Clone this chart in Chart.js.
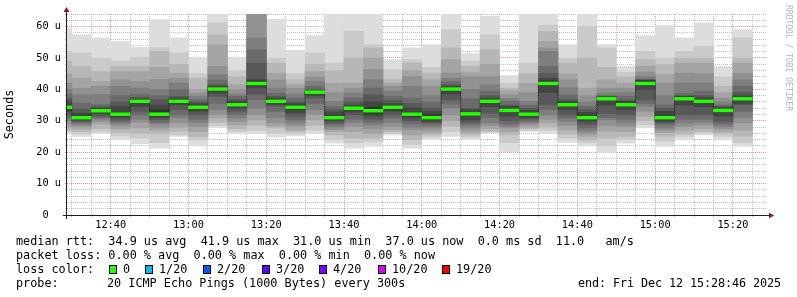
<!DOCTYPE html>
<html>
<head>
<meta charset="utf-8">
<script src="https://cdn.jsdelivr.net/npm/chart.js@4.4.1/dist/chart.umd.min.js"></script>
<style>
  body { margin: 0; background: #fff; }
  #wrap { position: relative; width: 797px; height: 297px; overflow: hidden; font-family: "DejaVu Sans Mono", monospace; }
  canvas { position: absolute; left: 0; top: 0; }
  .t { position: absolute; white-space: pre; font-size: 11.8px; line-height: 14px; color: #000; }
  .box { position: absolute; width: 8px; height: 9px; border: 1px solid #000; box-sizing: border-box; top: 265px; }
  #wm { position: absolute; left: 792px; top: 5px; white-space: pre; font-size: 8px; line-height: 8px; color: #b4b4b4; transform: rotate(90deg); transform-origin: 0 0; }
</style>
</head>
<body>
<div id="wrap">
  <canvas id="c" width="797" height="297"></canvas>
  <div id="wm">RRDTOOL / TOBI OETIKER</div>
  <div class="t" style="left:16px;top:234px">median rtt:  34.9 us avg  41.9 us max  31.0 us min  37.0 us now  0.0 ms sd  11.0   am/s</div>
  <div class="t" style="left:16px;top:248px">packet loss: 0.00 % avg  0.00 % max  0.00 % min  0.00 % now</div>
  <div class="t" style="left:16px;top:262px">loss color:</div>
  <div id="lossLegend"></div>
  <div class="t" style="left:16px;top:276px">probe:</div>
  <div class="t" style="left:107px;top:276px">20 ICMP Echo Pings (1000 Bytes) every 300s</div>
  <div class="t" style="right:16px;top:276px;letter-spacing:-0.1px">end: Fri Dec 12 15:28:46 2025</div>
</div>
<script>
// 5-minute slots (start time), one smoke column each
const slots = ['12:25','12:30','12:35','12:40','12:45','12:50','12:55','13:00','13:05','13:10',
               '13:15','13:20','13:25','13:30','13:35','13:40','13:45','13:50','13:55','14:00',
               '14:05','14:10','14:15','14:20','14:25','14:30','14:35','14:40','14:45','14:50',
               '14:55','15:00','15:05','15:10','15:15','15:20'];

// median rtt per slot (us)
const medians = [34.3, 31.0, 33.2, 32.1, 36.2, 32.1, 36.2, 34.3, 40.1, 35.1,
                 41.9, 36.2, 34.3, 39.1, 31.0, 34.0, 33.2, 34.3, 32.1, 31.0,
                 40.1, 32.2, 36.2, 33.3, 32.1, 41.9, 35.1, 31.0, 37.0, 35.1,
                 41.9, 31.0, 37.0, 36.2, 33.3, 37.0];

// sorted ping rtts per slot (us), p01 = fastest ... p20 = slowest
const p01 = [26, 25.0, 25.9, 24.1, 22.7, 21.3, 25, 22, 27.9, 26, 26, 24.8, 25.2, 26, 22.9, 21.3, 21.8, 25.5, 21.3, 24.1, 25, 24.1, 26.3, 20.2, 26.6, 26, 23.1, 22, 19.9, 22.9, 27.7, 21.8, 23.9, 25.5, 23.9, 21.8];
const p02 = [26.5, 25.8, 26.5, 25.2, 24.5, 23, 25.5, 23.9, 28.5, 26.5, 27, 26, 25.8, 27, 24, 23, 23.4, 26, 22.5, 24.8, 26.5, 24.8, 26.4, 23, 27, 27, 24.5, 23, 22, 24, 28.8, 23.5, 25, 26, 25, 23];
const p03 = [27, 26.6, 27.5, 26.3, 26, 26, 26.6, 25, 29.5, 27.5, 28.5, 27.7, 26.5, 28.5, 25.5, 24.5, 24.5, 26.5, 24, 25.5, 28.2, 25.5, 26.6, 25.5, 27.5, 28, 25.8, 23.9, 24.5, 25, 30, 25, 25.8, 26.5, 26, 25];
const p04 = [28, 27.4, 29, 27.4, 27.7, 27, 28, 26.5, 30.9, 28.7, 30.3, 28.3, 27.1, 30.3, 26.6, 26.5, 26, 27.2, 25.5, 26.2, 30, 26.2, 27.5, 26.5, 28, 29.3, 27.1, 25, 26.6, 26.5, 31.5, 26.2, 27, 27.5, 26.6, 27];
const p05 = [29, 28.2, 29.8, 28.3, 29.5, 28, 29.3, 28.2, 32, 29.8, 32, 29.3, 28.5, 32, 27.2, 28.2, 27.5, 28.2, 27.1, 27.1, 31.9, 27.1, 28.5, 27.7, 28.7, 30.5, 28.5, 26, 28.5, 28.2, 33, 27, 28.2, 28.7, 27.5, 29.3];
const p06 = [30, 28.8, 30.5, 29, 30.5, 29, 31, 29.5, 33.5, 30.9, 34, 31, 29.3, 33.5, 28, 29.5, 28.7, 29.5, 28, 28, 34, 28, 29.3, 28.2, 29.3, 31.9, 29.8, 26.8, 30.3, 29.3, 34.6, 27.7, 29.3, 29.5, 28.2, 31];
const p07 = [31, 29.3, 31, 29.6, 31.9, 29.5, 32, 30.5, 35.5, 32, 36.7, 33, 30.3, 35.5, 28.7, 30.5, 29.5, 30.8, 29, 28.7, 35.3, 28.8, 31, 29, 29.8, 33.5, 30.8, 27.7, 31, 30.5, 35.5, 28.7, 30.5, 30.5, 29, 33];
const p08 = [32, 29.8, 31.5, 30.2, 33, 30.3, 33.5, 31.9, 37.8, 33, 38.5, 34.6, 31.5, 37.2, 29.3, 31.9, 30.5, 31.9, 30, 29.3, 36.7, 29.5, 32.4, 30, 30.5, 35.1, 31.9, 28.8, 32.4, 31.9, 36.7, 29.3, 31.9, 31.9, 29.8, 35.1];
const p09 = [33, 30.2, 32.3, 31, 34.5, 31, 35, 33, 38.8, 34, 40.5, 35.2, 32.5, 38, 30, 32.8, 31.5, 33, 30.8, 29.8, 38.5, 30.3, 34.5, 31.5, 31, 39, 33.5, 29.8, 35, 33.5, 40, 29.8, 35, 34.5, 31.5, 35.5];
const p10 = [33.8, 30.7, 32.8, 31.6, 35.7, 31.5, 35.7, 33.8, 39.6, 34.6, 41.7, 35.7, 33.7, 38.6, 30.6, 33.5, 32.3, 33.7, 31.5, 30.5, 39.6, 31.7, 35.7, 32.8, 31.6, 41.7, 34.6, 30.6, 36.6, 34.6, 41.7, 30.7, 36.5, 35.7, 32.8, 36.5];
const p11 = [35, 31.7, 33.7, 32.7, 36.7, 33.5, 36.7, 34.8, 40.6, 35.6, 42.7, 36.7, 34.9, 39.4, 31.7, 34.5, 34.3, 34.9, 32.7, 31.9, 40.6, 32.7, 36.7, 33.8, 32.6, 42.7, 35.6, 31.7, 37.4, 35.6, 42.7, 31.7, 37.5, 36.7, 33.8, 37.5];
const p12 = [36, 32.4, 34, 34.5, 37, 35, 37.2, 35.5, 41, 36.2, 43.1, 37.2, 35.5, 39.6, 32.8, 35, 36, 35.5, 34, 33, 41, 33.5, 37.2, 34.6, 33.3, 43.5, 36.2, 32.7, 37.6, 36.2, 42.9, 33, 37.8, 37.3, 34.2, 38];
const p13 = [37, 33.7, 34.5, 36, 37.5, 36.7, 37.8, 36, 41.5, 36.8, 48.4, 37.8, 36, 39.9, 33.5, 36, 38.3, 36.5, 35.5, 34, 41.5, 34, 38, 35, 34, 45, 36.8, 33.5, 37.8, 36.5, 43, 34, 38, 38, 34.6, 39];
const p14 = [38.5, 35.6, 35.2, 38, 38.5, 38, 39.9, 36.8, 43, 37.8, 52.7, 38.8, 37.2, 41, 34.5, 37.2, 40.4, 37.8, 37.2, 36, 42.5, 37, 39.4, 36.2, 35, 47.3, 38.3, 34.6, 38, 37.8, 43.3, 35, 38.8, 39.4, 35, 41];
const p15 = [40, 38.3, 38.4, 41, 40.4, 40, 42, 37.8, 44.7, 38.5, 56.4, 40.4, 38.5, 42.5, 36.2, 38.8, 43, 39.5, 41, 38, 43.5, 40, 41.5, 37, 36.2, 52.1, 40.5, 36, 38.8, 39, 44.1, 38, 42, 42, 36, 43];
const p16 = [42, 40.4, 41, 43, 42.5, 43.1, 43.5, 38.8, 47.3, 39.9, 66, 43, 40.4, 44, 39, 40.4, 46.3, 41, 44.1, 41, 45.2, 44.1, 44.1, 38.3, 39, 53.2, 43.1, 38, 40.4, 40.4, 45.5, 42, 45.2, 45, 37.2, 45.2];
const p17 = [45, 43.6, 42.5, 45.7, 45.7, 47, 45.2, 40, 54.3, 41.5, 67, 45.2, 41.5, 45.7, 42, 42, 50, 42, 46, 43, 49.5, 45.5, 48, 39.5, 42, 55.3, 45, 40.4, 43, 42, 47.3, 44.7, 48.4, 48.4, 39, 48.4];
const p18 = [49, 47.3, 45.7, 47.3, 47.3, 52.1, 48, 43.6, 57.4, 44.1, 68, 48.4, 43.1, 48, 46, 50, 53.2, 43.1, 48.4, 45.2, 53.2, 47.3, 52.7, 40.4, 45, 58.5, 48.4, 50, 47, 44.1, 49.5, 47.9, 50, 50, 41, 50];
const p19 = [52, 51.6, 50, 49, 50.3, 53.2, 51.6, 45, 61.2, 46, 69, 50, 45, 51.6, 48.4, 58.5, 54.3, 46.3, 49.5, 47, 59, 49, 57.4, 42, 48.4, 60.5, 50, 60.1, 53.2, 45.5, 52.1, 50, 52.1, 53.7, 44, 56.4];
const p20 = [59.4, 57.4, 56.4, 55.2, 53.4, 62.2, 56.4, 50.3, 66, 50.3, 70, 62.4, 52.4, 57.1, 66, 66, 66, 49.5, 53.2, 54.3, 66, 51.4, 63.3, 44.4, 66, 66, 54.3, 66, 54.3, 47.3, 57.1, 60.3, 56.4, 61.2, 47.3, 59];

// axis labels
const xLabels = ['12:40','13:00','13:20','13:40','14:00','14:20','14:40','15:00','15:20'];
const yLabels = ['0  ','10 u','20 u','30 u','40 u','50 u','60 u'];

// loss legend
const lossNames = ['0','1/20','2/20','3/20','4/20','10/20','19/20'];
const lossColors = ['#26ff00','#00b8ff','#0059ff','#5e00ff','#7e00ff','#dd00ff','#ff0000'];

const boxX = [109, 145, 203, 262, 319, 378, 442];
const leg = document.getElementById('lossLegend');
lossNames.forEach((n, i) => {
  const b = document.createElement('div');
  b.className = 'box';
  b.style.left = boxX[i] + 'px';
  b.style.background = lossColors[i];
  leg.appendChild(b);
  const t = document.createElement('div');
  t.className = 't';
  t.style.left = (boxX[i] + 14) + 'px';
  t.style.top = '262px';
  t.textContent = n;
  leg.appendChild(t);
});

const toMin = s => { const [h, m] = s.split(':').map(Number); return (h - 12) * 60 + m; };
const xs = slots.map(s => toMin(s) + 2.5);
const xMin = 28 + 46 / 60;      // 12:28:46
const xMax = xMin + 180;        // 15:28:46

const lows = [p01, p02, p03, p04, p05, p06, p07, p08, p09, p10];
const highs = [p20, p19, p18, p17, p16, p15, p14, p13, p12, p11];
const shades = [221, 202, 183, 164, 145, 126, 107, 88, 69, 50];

const datasets = [];
datasets.push({
  type: 'bar',
  data: xs.map((x, i) => ({ x: x, y: [medians[i] - 0.45, medians[i] + 0.45] })),
  backgroundColor: '#26ff00',
  order: 0
});
datasets.push({
  type: 'line',
  data: xs.map((x, i) => ({ x: x, y: medians[i] })),
  stepped: 'middle',
  borderColor: '#202020',
  borderWidth: 1,
  borderDash: [1, 1],
  pointRadius: 0,
  clip: 0,
  order: 1
});
for (let b = 9; b >= 0; b--) {
  const g = shades[b];
  datasets.push({
    type: 'bar',
    data: xs.map((x, i) => ({ x: x, y: [lows[b][i], highs[b][i]] })),
    backgroundColor: `rgb(${g},${g},${g})`,
    order: 2 + (9 - b)
  });
}

const gridMinor = 'rgba(143,143,143,0.6)';
const gridMajor = 'rgba(222,79,79,0.6)';
const xTickVals = [];
for (let v = 30; v <= 205; v += 5) xTickVals.push(v);
const yTickVals = [];
for (let v = 0; v <= 64; v += 2) yTickVals.push(v);
const fmtTime = v => xLabels.find(l => toMin(l) === v) || '';

const rrdAxes = {
  id: 'rrdAxes',
  afterDraw(chart) {
    const { ctx, chartArea: a } = chart;
    const x0 = a.left - 0.5, y0 = a.bottom + 0.5;
    ctx.save();
    ctx.strokeStyle = '#1f1f1f';
    ctx.lineWidth = 1;
    ctx.beginPath();
    ctx.moveTo(a.left - 4, y0); ctx.lineTo(a.right + 4, y0);
    ctx.moveTo(x0, a.bottom + 4); ctx.lineTo(x0, a.top - 4);
    ctx.stroke();
    ctx.fillStyle = '#801f1f';
    ctx.beginPath();
    ctx.moveTo(a.right + 2, y0 - 3); ctx.lineTo(a.right + 2, y0 + 3); ctx.lineTo(a.right + 7, y0);
    ctx.closePath(); ctx.fill();
    ctx.beginPath();
    ctx.moveTo(x0 - 3, a.top - 2); ctx.lineTo(x0 + 3, a.top - 2); ctx.lineTo(x0, a.top - 7);
    ctx.closePath(); ctx.fill();
    ctx.restore();
  }
};

new Chart(document.getElementById('c'), {
  type: 'bar',
  data: { datasets: datasets },
  options: {
    responsive: false,
    animation: false,
    devicePixelRatio: 1,
    layout: { padding: { top: 14, right: 30, left: 0, bottom: 0 } },
    datasets: { bar: { grouped: false, barPercentage: 1, categoryPercentage: 1, borderWidth: 0, clip: 0 } },
    plugins: { legend: { display: false }, tooltip: { enabled: false } },
    scales: {
      x: {
        type: 'linear',
        min: xMin,
        max: xMax,
        offset: false,
        z: 1,
        afterBuildTicks: s => { s.ticks = xTickVals.map(v => ({ value: v })); },
        afterFit: s => { s.height = 82; },
        ticks: {
          autoSkip: false,
          maxRotation: 0,
          padding: 2,
          color: '#000',
          font: { family: 'DejaVu Sans Mono', size: 10.3 },
          callback: v => fmtTime(v)
        },
        grid: {
          offset: false,
          lineWidth: 1,
          tickLength: 2,
          color: c => (c.tick && c.tick.value % 20 === 0) ? gridMajor : gridMinor
        },
        border: { display: false, dash: [1, 1] }
      },
      y: {
        min: 0,
        max: 64,
        z: 1,
        afterBuildTicks: s => { s.ticks = yTickVals.map(v => ({ value: v })); },
        afterFit: s => { s.width = 67; },
        ticks: {
          autoSkip: false,
          padding: 4,
          color: '#000',
          font: { family: 'DejaVu Sans Mono', size: 10.3 },
          callback: v => (v % 10 === 0) ? yLabels[v / 10] : ''
        },
        grid: {
          lineWidth: 1,
          tickLength: 2,
          color: c => (c.tick && c.tick.value % 10 === 0) ? gridMajor : gridMinor
        },
        border: { display: false, dash: [1, 1] },
        title: {
          display: true,
          text: 'Seconds',
          color: '#000',
          font: { family: 'DejaVu Sans Mono', size: 11.8 },
          padding: { top: 3, bottom: 0 }
        }
      }
    }
  },
  plugins: [rrdAxes]
});
</script>
</body>
</html>
